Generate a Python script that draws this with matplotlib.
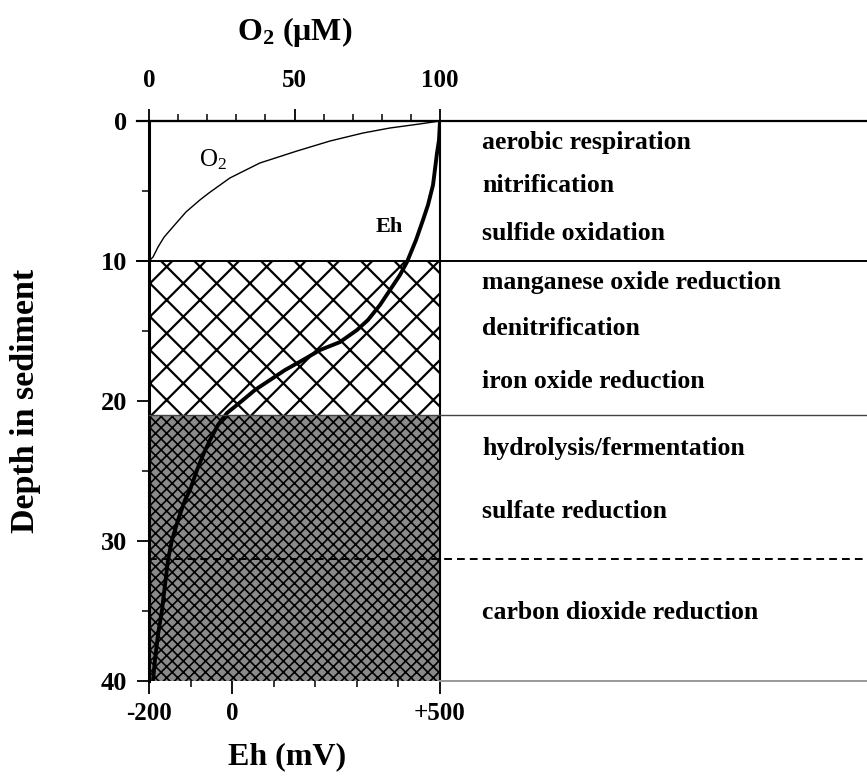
import numpy as np
import matplotlib
matplotlib.use("Agg")
import matplotlib.pyplot as plt
from matplotlib.transforms import blended_transform_factory

plt.rcParams['font.family'] = ['Liberation Serif', 'DejaVu Serif']
plt.rcParams['font.weight'] = 'bold'
plt.rcParams['mathtext.fontset'] = 'custom'
plt.rcParams['mathtext.rm'] = 'Liberation Serif:bold'
plt.rcParams['mathtext.it'] = 'Liberation Serif:bold'
plt.rcParams['mathtext.bf'] = 'Liberation Serif:bold'

# O2 profile (uM) vs depth
o2_depth = [0, 0.21, 0.5, 0.86, 1.43, 2.14, 3.0, 4.07, 5.14, 5.64, 6.5,
            7.57, 8.29, 9.0, 9.71, 10]
o2_conc = [100, 93.1, 82.8, 73.5, 62.2, 50.9, 38.1, 27.8, 20.6, 17.5, 12.7,
           8.2, 5.2, 3.1, 1.4, 0]

# redox potential Eh (mV) vs depth
eh_depth = [0, 1.36, 2.29, 4.57, 6.0, 7.07, 8.5, 10.07, 11.0, 12.07, 13.14,
            14.21, 14.93, 15.79, 16.36, 17.07, 17.79, 18.5, 19.21, 19.93, 20.86,
            21.71, 22.79, 23.86, 24.93, 26.36, 27.07, 28.5, 29.93, 31.36, 33.14,
            34.93, 36.71, 38.5, 40]
eh_mv = [500, 497.6, 492.8, 483.2, 471.1, 459.1, 442.3, 420.6, 403.7, 379.7, 355.7,
         326.8, 300.3, 259.4, 211.3, 170.4, 127.1, 91.1, 55, 26.1, -12.4,
         -34, -53.3, -70.1, -84.5, -101.4, -113.4, -130.2, -144.7, -154.3, -161.5,
         -168.7, -178.4, -185.6, -190.4]

# zone boundaries
oxic_bottom = 10
suboxic_bottom = 21
methanogenic_top = 31.3

process_names = ["aerobic respiration", "nitrification", "sulfide oxidation",
                 "manganese oxide reduction", "denitrification", "iron oxide reduction",
                 "hydrolysis/fermentation", "sulfate reduction", "carbon dioxide reduction"]
process_depth = [1.5, 4.6, 8.0, 11.5, 14.8, 18.6, 23.4, 27.9, 35.1]

W, H = 867, 782
fig = plt.figure(figsize=(W / 100, H / 100), dpi=100)
ax = fig.add_axes([149 / W, 1 - 681 / H, 291 / W, 560 / H])

ax.set_xlim(-200, 500)
ax.set_ylim(40, 0)

# suboxic zone: open cross-hatch
plt.rcParams['hatch.linewidth'] = 1.6
ax.axhspan(oxic_bottom, suboxic_bottom, facecolor='white', edgecolor='black',
           hatch='x', linewidth=0, zorder=1)
# anoxic zone: dense hatch
plt.rcParams['hatch.linewidth'] = 1.2
ax.axhspan(suboxic_bottom, 40, facecolor='#8a8a8a', edgecolor='black',
           hatch='xxx', linewidth=0, zorder=1)

ax.plot(eh_mv, eh_depth, color='black', lw=2.8, zorder=4,
        solid_joinstyle='round', solid_capstyle='butt')

# horizontal zone lines running out to the process list
tr = blended_transform_factory(ax.transAxes, ax.transData)
xr = (W - 149) / 291
ax.plot([-0.04, xr], [0, 0], color='black', lw=1.6, transform=tr, clip_on=False, zorder=5)
ax.plot([-0.04, xr], [oxic_bottom, oxic_bottom], color='black', lw=1.4,
        transform=tr, clip_on=False, zorder=5)
ax.plot([0, xr], [suboxic_bottom, suboxic_bottom], color='#444444', lw=1.0,
        transform=tr, clip_on=False, zorder=5)
ax.plot([0, xr], [methanogenic_top, methanogenic_top], color='black', lw=1.4,
        dashes=(4, 2.6), transform=tr, clip_on=False, zorder=5)
ax.plot([1, xr], [40, 40], color='#999999', lw=1.4, transform=tr, clip_on=False, zorder=5)

for name, d in zip(process_names, process_depth):
    ax.text(1.145, d, name, transform=tr, fontsize=18.5, va='center', ha='left')

ax.text(378, 7.6, "Eh", fontsize=16, ha='center', va='center', zorder=6)

for s in ['right', 'top']:
    ax.spines[s].set_linewidth(1.5)
ax.spines['left'].set_linewidth(2.2)
ax.spines['bottom'].set_visible(False)

ax.set_xticks([-200, 0, 500])
ax.set_xticklabels(['-200', '0', '+500'])
ax.set_xticks([-100, 100, 200, 300, 400], minor=True)
ax.set_yticks([0, 10, 20, 30, 40])
ax.set_yticks([5, 15, 25, 35], minor=True)
ax.tick_params(axis='x', which='major', direction='out', length=9, width=1.3,
               labelsize=18, pad=6)
ax.tick_params(axis='x', which='minor', direction='out', length=4, width=1.1)
ax.tick_params(axis='y', which='major', direction='out', length=9, width=1.3,
               labelsize=19, pad=7)
ax.tick_params(axis='y', which='minor', direction='out', length=5, width=1.1)

ax.set_xlabel("Eh (mV)", fontsize=23, fontweight='bold')
ax.xaxis.set_label_coords(0.474, -0.11)
ax.set_ylabel("Depth in sediment", fontsize=24.5, fontweight='bold')
ax.yaxis.set_label_coords(-0.37, 0.5)

# O2 on the top axis
ax2 = ax.twiny()
ax2.set_xlim(0, 100)
ax2.plot(o2_conc, o2_depth, color='black', lw=1.0, zorder=4, solid_joinstyle='round')
ax2.text(22, 2.75, r"O$_\mathregular{2}$", fontsize=18, fontweight='normal',
         ha='center', va='center')
ax2.set_xticks([0, 50, 100])
ax2.set_xticks(np.arange(10, 100, 10), minor=True)
ax2.tick_params(axis='x', which='major', direction='out', length=9, width=1.3,
                labelsize=18, pad=12)
ax2.tick_params(axis='x', which='minor', direction='out', length=5, width=1.1)
for s in ['left', 'right', 'bottom', 'top']:
    ax2.spines[s].set_visible(False)
ax2.set_xlabel("O$_2$ (μM)", fontsize=23, fontweight='bold')
ax2.xaxis.set_label_coords(0.5, 1.145)

fig.savefig("out.png", dpi=100)
